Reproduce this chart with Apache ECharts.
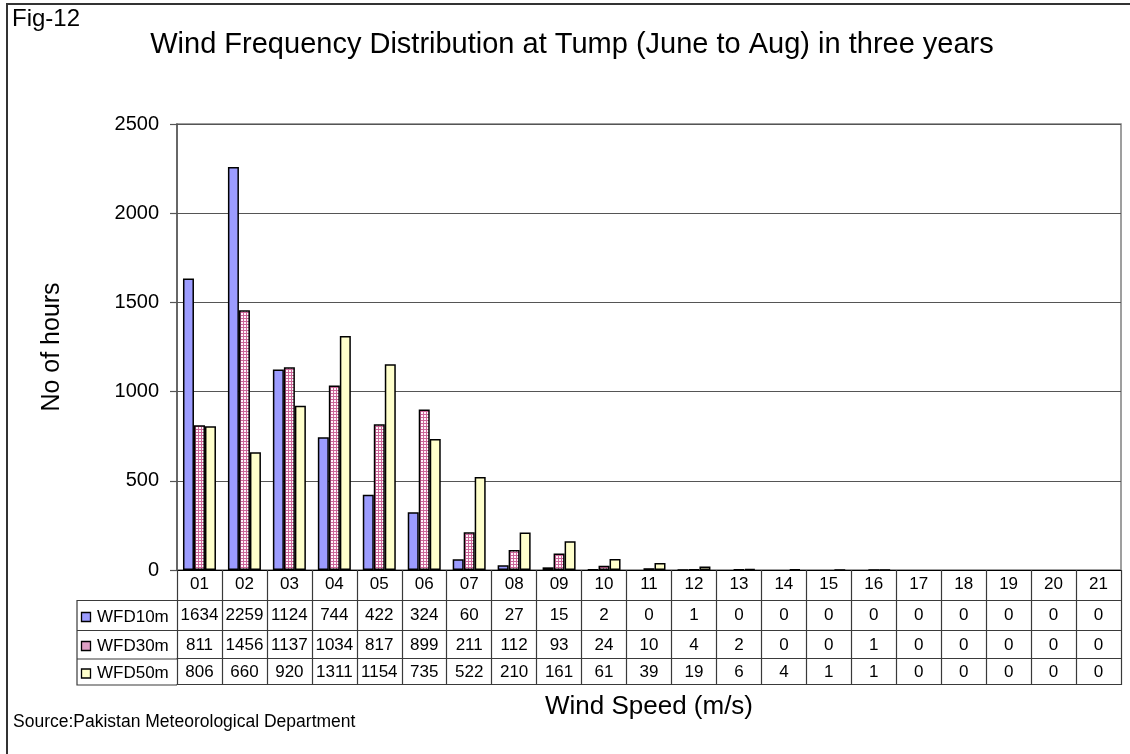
<!DOCTYPE html>
<html>
<head>
<meta charset="utf-8">
<script src="https://cdn.jsdelivr.net/npm/echarts@6/dist/echarts.min.js"></script>
<style>
html,body{margin:0;padding:0;background:#fff;}
#c{width:1130px;height:754px;}
</style>
</head>
<body>
<div id="c"></div>
<script>
const categories = ['01','02','03','04','05','06','07','08','09','10','11','12','13','14','15','16','17','18','19','20','21'];
const seriesNames = ['WFD10m','WFD30m','WFD50m'];
const wfd10 = [1634,2259,1124,744,422,324,60,27,15,2,0,1,0,0,0,0,0,0,0,0,0];
const wfd30 = [811,1456,1137,1034,817,899,211,112,93,24,10,4,2,0,0,1,0,0,0,0,0];
const wfd50 = [806,660,920,1311,1154,735,522,210,161,61,39,19,6,4,1,1,0,0,0,0,0];
const yTicks = [0,500,1000,1500,2000,2500];

const FONT = '"Liberation Sans", Arial, sans-serif';

// pink check pattern
const pc = document.createElement('canvas');
pc.width = 3; pc.height = 3;
const g = pc.getContext('2d');
g.fillStyle = '#FFF4FA'; g.fillRect(0,0,3,3);
g.fillStyle = '#CC6699'; g.fillRect(0,0,3,1); g.fillRect(0,0,1,3);
const pinkPattern = {image: pc, repeat: 'repeat'};

const colors = ['#9C9CFF', pinkPattern, '#FFFFCC'];
const dataRows = [wfd10, wfd30, wfd50];

const chart = echarts.init(document.getElementById('c'), null, {renderer: 'canvas'});

const lineCol = '#3a3a3a';
const rowOffsets = [30, 60, 88.5];
const rowMargins = [7, 6.5, 5.5];
const rowCenters = [617, 646, 673.5];

const xAxes = [{
  type: 'category', data: categories, gridIndex: 0, position: 'bottom',
  axisLine: {show: true, lineStyle: {color: '#000', width: 1.2}},
  axisTick: {show: true, length: 115, interval: 0, lineStyle: {color: lineCol, width: 1.2}},
  axisLabel: {show: true, interval: 0, margin: 6, fontSize: 17, color: '#000', fontFamily: FONT},
  name: 'Wind Speed (m/s)', nameLocation: 'middle', nameGap: 137,
  nameTextStyle: {fontSize: 26, color: '#000', fontFamily: FONT, verticalAlign: 'middle'}
}];
dataRows.forEach((row, i) => {
  xAxes.push({
    type: 'category', data: row.map(String), gridIndex: 0, position: 'bottom', offset: rowOffsets[i],
    axisLine: {show: true, lineStyle: {color: lineCol, width: 1.2}},
    axisTick: {show: false},
    axisLabel: {show: true, interval: 0, margin: rowMargins[i], fontSize: 17, color: '#000', fontFamily: FONT},
    splitLine: {show: false}
  });
});
xAxes.push({
  type: 'category', data: categories, gridIndex: 0, position: 'bottom', offset: 114.5,
  axisLine: {show: true, lineStyle: {color: lineCol, width: 1.2}},
  axisTick: {show: false}, axisLabel: {show: false}, splitLine: {show: false}
});

const legendGraphics = [];
seriesNames.forEach((nm, i) => {
  legendGraphics.push({type: 'rect', shape: {x: 81.5, y: rowCenters[i] - 4.5, width: 9, height: 9},
    style: {fill: colors[i] === pinkPattern ? '#DDA0C4' : colors[i], stroke: '#000', lineWidth: 1.3}, z: 100});
  legendGraphics.push({type: 'text', x: 97, y: rowCenters[i],
    style: {text: nm, fontSize: 17, fill: '#000', fontFamily: FONT, textAlign: 'left', textVerticalAlign: 'middle'}, z: 100});
});

const option = {
  animation: false,
  backgroundColor: '#fff',
  textStyle: {fontFamily: FONT},
  grid: {left: 177, right: 9, top: 124, bottom: 184, show: true, borderColor: '#808080', borderWidth: 1.5, backgroundColor: 'transparent'},
  xAxis: xAxes,
  yAxis: {
    type: 'value', min: yTicks[0], max: yTicks[yTicks.length-1], interval: 500,
    axisLine: {show: true, lineStyle: {color: '#555', width: 1.5}},
    axisTick: {show: true, length: 7, lineStyle: {color: '#555', width: 1.2}},
    axisLabel: {margin: 18, fontSize: 20, color: '#000', fontFamily: FONT, formatter: v => String(v)},
    splitLine: {show: true, lineStyle: {color: '#555', width: 1.2}},
    name: 'No of hours', nameLocation: 'middle', nameGap: 125, nameRotate: 90,
    nameTextStyle: {fontSize: 25, color: '#000', fontFamily: FONT, verticalAlign: 'middle'}
  },
  series: dataRows.map((row, i) => ({
    name: seriesNames[i], type: 'bar', data: row.map(v => v === 0 ? '-' : v), xAxisIndex: 0, yAxisIndex: 0,
    barWidth: 11, barGap: '0%',
    itemStyle: {color: colors[i], borderColor: '#000', borderWidth: 1.5},
    emphasis: {disabled: true}
  })),
  graphic: [
    {type: 'rect', shape: {x: 7, y: 4, width: 1200, height: 900}, style: {fill: 'none', stroke: '#333', lineWidth: 2}, silent: true, z: 100},
    {type: 'text', left: 12, top: 7, style: {text: 'Fig-12', fontSize: 24, fill: '#000', fontFamily: FONT}, z: 100},
    {type: 'text', x: 572, y: 45, style: {text: 'Wind Frequency Distribution at Tump (June to Aug) in three years', fontSize: 29, fill: '#000', fontFamily: FONT, textAlign: 'center', textVerticalAlign: 'middle'}, z: 100},
    {type: 'text', x: 13, y: 722, style: {text: 'Source:Pakistan Meteorological Department', fontSize: 17.5, fill: '#000', fontFamily: FONT, textAlign: 'left', textVerticalAlign: 'middle'}, z: 100},
    {type: 'polyline', shape: {points: [[177, 600.5], [77, 600.5], [77, 685], [177, 685]]}, style: {stroke: lineCol, lineWidth: 1.2, fill: 'none'}, z: 100},
    {type: 'line', shape: {x1: 77, y1: 630.5, x2: 177, y2: 630.5}, style: {stroke: lineCol, lineWidth: 1.2}, z: 100},
    {type: 'line', shape: {x1: 77, y1: 659, x2: 177, y2: 659}, style: {stroke: lineCol, lineWidth: 1.2}, z: 100}
  ].concat(legendGraphics)
};
chart.setOption(option);
</script>
</body>
</html>
